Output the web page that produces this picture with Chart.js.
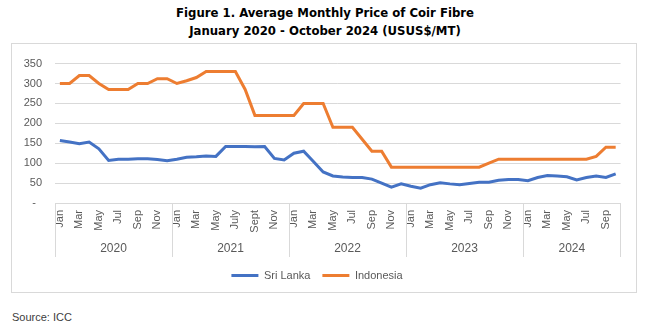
<!DOCTYPE html>
<html>
<head>
<meta charset="utf-8">
<script src="https://cdn.jsdelivr.net/npm/chart.js@4.4.1/dist/chart.umd.min.js"></script>
<style>
  body { margin: 0; background: #fff; width: 650px; height: 327px; position: relative; font-family: "Liberation Sans", Arial, sans-serif; }
  .title { position: absolute; left: 0; width: 650px; text-align: center; font-weight: bold; color: #000;
           font-family: "DejaVu Sans Condensed", "Liberation Sans", sans-serif; font-size: 13px; line-height: 18px; }
  #box { position: absolute; left: 11px; top: 43px; width: 624px; height: 248px; border: 1px solid #d9d9d9; }
  #src { position: absolute; left: 12px; top: 311px; font-size: 11px; color: #404040; }
</style>
</head>
<body>
<div class="title" style="top:4px">Figure 1. Average Monthly Price of Coir Fibre</div>
<div class="title" style="top:22px">January 2020 - October 2024 (USUS$/MT)</div>
<div id="box"><canvas id="chart" width="624" height="248"></canvas></div>
<div id="src">Source: ICC</div>

<script>
// data
const monthLabels = [
  'Jan','Feb','Mar','Apr','May','Jun','Jul','Aug','Sep','Oct','Nov','Dec',
  'Jan','Feb','Mar','Apr','May','Jun','July','Aug','Sept','Oct','Nov','Dec',
  'Jan','Feb','Mar','Apr','May','Jun','Jul','Aug','Sep','Oct','Nov','Dec',
  'Jan','Feb','Mar','Apr','May','Jun','Jul','Aug','Sep','Oct','Nov','Dec',
  'Jan','Feb','Mar','Apr','May','Jun','Jul','Aug','Sep','Oct'
];
const years = ['2020', '2021', '2022', '2023', '2024'];
const sriLanka = [
  157,153,149,153,136,107,110,110,111,111,109,106,
  110,115,116,118,117,142,142,142,141,142,112,108,
  125,130,104,78,68,65,64,64,60,50,40,48,
  42,37,46,51,48,46,49,52,52,57,59,59,
  56,64,69,68,66,58,64,68,64,73
];
const indonesia = [
  300,300,320,320,300,285,285,285,300,300,312,312,
  300,307,315,330,330,330,330,285,220,220,220,220,
  220,250,250,250,190,190,190,160,130,130,90,90,
  90,90,90,90,90,90,90,90,100,110,110,110,
  110,110,110,110,110,110,110,117,140,140
];
const yTicks = [0, 50, 100, 150, 200, 250, 300, 350];

document.addEventListener("DOMContentLoaded", function () {
  var textGray = '#595959';
  var gridGray = '#d9d9d9';

  // year labels + separator lines under the month labels
  var yearAxis = {
    id: 'yearAxis',
    afterDraw: function (chart) {
      var ctx = chart.ctx;
      var x = chart.scales.x;
      var area = chart.chartArea;
      var step = (area.right - area.left) / monthLabels.length;
      ctx.save();
      ctx.strokeStyle = gridGray;
      ctx.lineWidth = 1;
      ctx.fillStyle = textGray;
      ctx.font = '12px "Liberation Sans", Arial, sans-serif';
      ctx.textAlign = 'center';
      ctx.textBaseline = 'middle';
      for (var g = 0; g < years.length; g++) {
        var first = g * 12;
        var last = Math.min(first + 11, monthLabels.length - 1);
        var x0 = x.getPixelForValue(first) - step / 2;
        var x1 = x.getPixelForValue(last) + step / 2;
        ctx.beginPath();
        ctx.moveTo(Math.round(x0) + 0.5, area.bottom);
        ctx.lineTo(Math.round(x0) + 0.5, area.bottom + 54);
        ctx.stroke();
        if (g === years.length - 1) {
          ctx.beginPath();
          ctx.moveTo(Math.round(x1) - 0.5, area.bottom);
          ctx.lineTo(Math.round(x1) - 0.5, area.bottom + 54);
          ctx.stroke();
        }
        ctx.fillText(years[g], (x0 + x1) / 2, area.bottom + 46);
      }
      ctx.restore();
    }
  };

  var ctx = document.getElementById('chart').getContext('2d');
  new Chart(ctx, {
    type: 'line',
    data: {
      labels: monthLabels,
      datasets: [
        { label: 'Sri Lanka', data: sriLanka, borderColor: '#4472C4', backgroundColor: '#4472C4',
          borderWidth: 3, pointRadius: 0, tension: 0 },
        { label: 'Indonesia', data: indonesia, borderColor: '#ED7D31', backgroundColor: '#ED7D31',
          borderWidth: 3, pointRadius: 0, tension: 0 }
      ]
    },
    options: {
      responsive: false,
      animation: false,
      devicePixelRatio: 1,
      layout: { padding: { top: 12, right: 14, bottom: 1, left: 0 } },
      plugins: {
        legend: {
          position: 'bottom',
          labels: {
            usePointStyle: true, pointStyle: 'line', pointStyleWidth: 27,
            color: textGray, font: { size: 11, family: '"Liberation Sans", Arial, sans-serif' },
            padding: 12
          }
        },
        tooltip: { enabled: false }
      },
      scales: {
        x: {
          offset: true,
          grid: { display: false, drawTicks: false },
          border: { color: gridGray },
          ticks: {
            autoSkip: false, minRotation: 90, maxRotation: 90, padding: 7,
            color: textGray, font: { size: 11, family: '"Liberation Sans", Arial, sans-serif' },
            callback: function (v, i) { return i % 2 === 0 ? monthLabels[i] : ''; }
          },
          afterFit: function (s) { s.height = 55; }
        },
        y: {
          min: 0, max: 350,
          afterBuildTicks: function (s) { s.ticks = yTicks.map(function (v) { return { value: v }; }); },
          grid: { color: gridGray, drawTicks: false },
          border: { display: false },
          ticks: {
            padding: 13, color: textGray, font: { size: 11, family: '"Liberation Sans", Arial, sans-serif' },
            callback: function (v) { return v === 0 ? '-  ' : v; }
          },
          afterFit: function (s) { s.width = 43; }
        }
      }
    },
    plugins: [yearAxis]
  });
});
</script>
</body>
</html>
